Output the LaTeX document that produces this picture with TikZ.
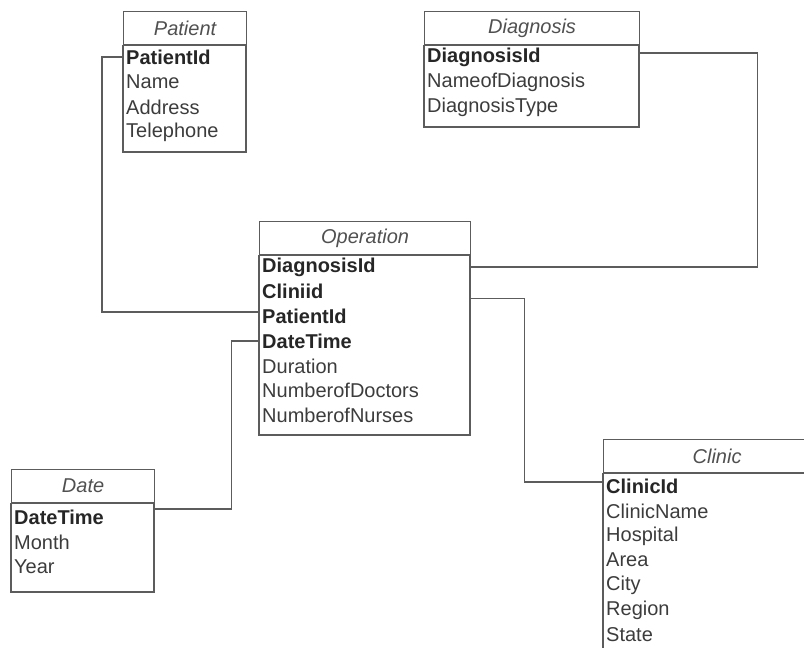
\documentclass[tikz,border=0pt]{standalone}
\usepackage{fontspec}
\setmainfont{Liberation Sans}
\usepackage{tikz}
\usepackage{xcolor}

\definecolor{rulegray}{HTML}{5C5C5C}
\definecolor{titlegray}{HTML}{505050}
\definecolor{attrgray}{HTML}{3C3C3C}

\tikzset{
  tblhead/.style={draw=rulegray, line width=1.2pt, anchor=north west, minimum height=33pt,
    inner sep=0pt, font=\fontsize{20}{24}\selectfont\itshape, text=titlegray},
  field/.style={anchor=west, inner xsep=3pt, inner ysep=0pt, minimum height=24pt,
    font=\fontsize{20}{24}\selectfont, text=attrgray},
  keyfield/.style={field, font=\fontsize{20}{24}\selectfont\bfseries, text=black!85},
  tblbox/.style={draw=rulegray, line width=1.2pt},
  link/.style={draw=rulegray, line width=1.2pt},
}

\begin{document}
\begin{tikzpicture}[x=1pt, y=-1pt]
\clip (0,0) rectangle (804,648);

% Patient table
\node[tblhead, minimum width=123pt] (pat) at (123,11) {Patient};
\draw[tblbox] (pat.south west) rectangle (246,152);
\node[keyfield] (pat-id) at (123,57) {PatientId};
\node[field] (pat-name) at (123,82) {Name};
\node[field] (pat-addr) at (123,107) {Address};
\node[field] (pat-tel) at (123,132) {Telephone};

% Diagnosis table
\node[tblhead, minimum width=215pt] (dia) at (424,11) {Diagnosis};
\draw[tblbox] (dia.south west) rectangle (639,127);
\node[keyfield] (dia-id) at (424,57) {DiagnosisId};
\node[field] (dia-name) at (424,82) {NameofDiagnosis};
\node[field] (dia-type) at (424,107) {DiagnosisType};

% Operation table (fact)
\node[tblhead, minimum width=211pt] (op) at (259,221) {Operation};
\draw[tblbox] (op.south west) rectangle (470,435);
\node[keyfield] (op-dia) at (259,267) {DiagnosisId};
\node[keyfield] (op-cli) at (259,291.5) {Cliniid};
\node[keyfield] (op-pid) at (259,316) {PatientId};
\node[keyfield] (op-dt) at (259,341) {DateTime};
\node[field] (op-dur) at (259,366) {Duration};
\node[field] (op-doc) at (259,390.5) {NumberofDoctors};
\node[field] (op-nur) at (259,415) {NumberofNurses};

% Date table
\node[tblhead, minimum width=143pt] (date) at (11,469) {Date};
\draw[tblbox] (date.south west) rectangle (154,592);
\node[keyfield] (date-dt) at (11,517) {DateTime};
\node[field] (date-mon) at (11,542) {Month};
\node[field] (date-yr) at (11,567) {Year};

% Clinic table (runs off the page)
\node[tblhead, minimum width=227pt] (cli) at (603,439) {Clinic};
\draw[tblbox] (cli.south west) rectangle (830,670);
\node[keyfield] (cli-id) at (603,486) {ClinicId};
\node[field] (cli-name) at (603,511) {ClinicName};
\node[field] (cli-hosp) at (603,536) {Hospital};
\node[field] (cli-area) at (603,560) {Area};
\node[field] (cli-city) at (603,585) {City};
\node[field] (cli-reg) at (603,610) {Region};
\node[field] (cli-state) at (603,635) {State};

% Links
\draw[link] (pat-id.west) -- ++(-21,0) |- ([yshift=4pt]op-pid.west);
\draw[link] ([yshift=4pt]dia-id.west -| dia.east) -- ++(117,0) |- (op-dia.west -| op.east);
\draw[link] ([yshift=-7pt]op-cli.west -| op.east) -- ++(53,0) |- ([yshift=4pt]cli-id.west);
\draw[link] ([yshift=8pt]date-dt.west -| date.east) -- ++(76,0) |- (op-dt.west);
\end{tikzpicture}
\end{document}
